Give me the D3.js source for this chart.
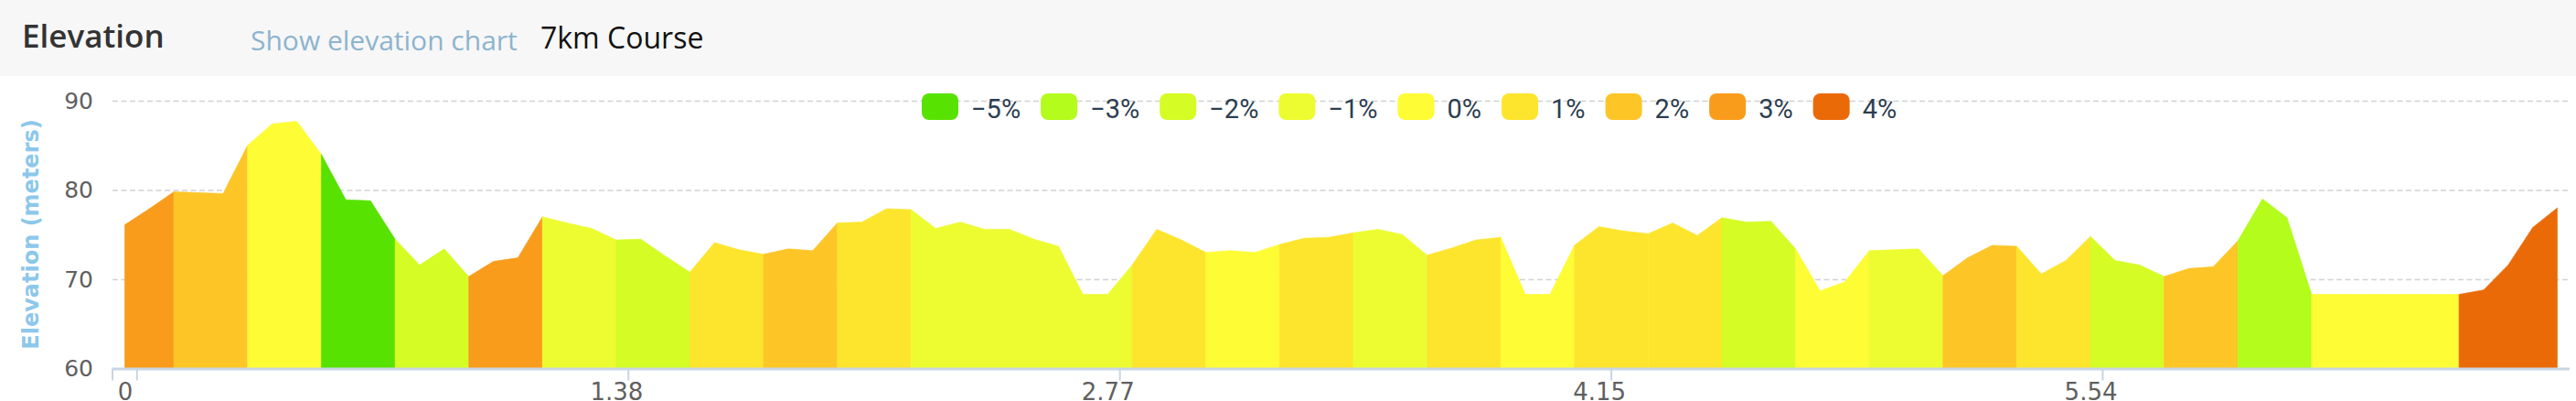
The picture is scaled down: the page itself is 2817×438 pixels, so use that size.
<!DOCTYPE html>
<html>
<head>
<meta charset="utf-8">
<script src="https://cdn.jsdelivr.net/npm/d3@7/dist/d3.min.js"></script>
<style>
  html, body { margin: 0; padding: 0; background: #ffffff; }
  svg { display: block; }
</style>
</head>
<body>
<svg id="chart" width="2817" height="438"></svg>
<script>
// ---------- DATA ----------
const elevation = [
  76.1, 77.9, 79.8, 79.7, 79.6, 85.0, 87.4, 87.7, 84.0, 78.9,
  78.8, 74.5, 71.6, 73.4, 70.3, 72.0, 72.4, 77.0, 76.3, 75.7,
  74.4, 74.5, 72.6, 70.8, 74.1, 73.3, 72.8, 73.4, 73.2, 76.3,
  76.4, 77.9, 77.8, 75.7, 76.4, 75.6, 75.6, 74.5, 73.7, 68.3,
  68.3, 71.6, 75.6, 74.4, 73.0, 73.2, 73.0, 73.9, 74.6, 74.7,
  75.2, 75.6, 75.0, 72.7, 73.5, 74.4, 74.7, 68.3, 68.3, 73.8,
  75.9, 75.4, 75.1, 76.3, 74.9, 76.9, 76.4, 76.5, 73.4, 68.7,
  69.7, 73.2, 73.3, 73.4, 70.4, 72.4, 73.8, 73.7, 70.6, 72.1,
  74.8, 72.1, 71.6, 70.3, 71.2, 71.4, 74.3, 79.0, 76.9, 68.3,
  68.3, 68.3, 68.3, 68.3, 68.3, 68.3, 68.8, 71.6, 75.8, 78.0
];
// point indices where grade segments change
const segmentBreaks = [0, 2, 5, 8, 11, 14, 17, 20, 23, 26, 29, 32, 35, 38, 41, 44, 47,
  50, 53, 56, 59, 62, 65, 68, 71, 74, 77, 80, 83, 86, 89, 92, 95, 99];
// grade (%) of each segment
const segmentGrades = [3, 2, 0, -5, -2, 3, -1, -2, 1, 2, 1, -1, -1, -1, 1, 0, 1,
  -1, 1, 0, 1, 1, -2, 0, -1, 2, 1, -2, 2, -3, 0, 0, 4];
const legendGrades = [-5, -3, -2, -1, 0, 1, 2, 3, 4];
const legendColors = ["#58e202", "#b3fc1b", "#d5fc24", "#ecfc31", "#fefc34",
  "#fde52d", "#fdc526", "#f99c1b", "#eb6a08"];
const xTickIndex = [0, 20, 40, 60, 80];
const xTickLabels = ["0", "1.38", "2.77", "4.15", "5.54"];
const yTicks = [60, 70, 80, 90];
const headerTitle = "Elevation";
const headerLink = "Show elevation chart";
const headerCourse = "7km Course";
const yTitle = "Elevation (meters)";

// ---------- LAYOUT ----------
const W = 2817, H = 438;
const plot = { left: 123, right: 2810, top: 110, bottom: 402.5 };
const svg = d3.select("#chart");

const gradeColor = d3.scaleOrdinal().domain(legendGrades).range(legendColors);

const x = d3.scalePoint()
  .domain(d3.range(elevation.length))
  .range([plot.left, plot.right])
  .padding(0.5);
const step = x.step();
const y = d3.scaleLinear().domain([60, 90]).range([plot.bottom, plot.top]);

// header band
svg.append("rect").attr("x", 0).attr("y", 0).attr("width", W).attr("height", 83)
  .attr("fill", "#f7f7f7");
svg.append("text").attr("x", 24).attr("y", 52)
  .attr("font-family", "'Open Sans', sans-serif").attr("font-weight", 600)
  .attr("font-size", 35).attr("fill", "#333333").text(headerTitle);
svg.append("text").attr("x", 274).attr("y", 55)
  .attr("font-family", "'Open Sans', sans-serif")
  .attr("font-size", 30).attr("fill", "#8db4cf").text(headerLink);
svg.append("text").attr("x", 591).attr("y", 53)
  .attr("font-family", "'Open Sans', sans-serif")
  .attr("font-size", 32).attr("fill", "#111111").text(headerCourse);

// grid lines (y axis)
const yGrid = svg.append("g")
  .attr("transform", `translate(${plot.left},0)`)
  .call(d3.axisLeft(y).tickValues(yTicks.filter(v => v > 60))
    .tickSize(-(plot.right - plot.left)).tickFormat(""));
yGrid.select(".domain").remove();
yGrid.selectAll(".tick line")
  .attr("stroke", "#d2d2d2").attr("stroke-width", 1.6)
  .attr("stroke-dasharray", "6,3.5");

// y labels
const yAxis = svg.append("g")
  .attr("transform", `translate(${plot.left},0)`)
  .call(d3.axisLeft(y).tickValues(yTicks).tickSize(0).tickPadding(21));
yAxis.select(".domain").remove();
yAxis.selectAll("text")
  .attr("font-family", "'DejaVu Sans', sans-serif").attr("font-size", 25)
  .attr("fill", "#606060");

// y title
svg.append("text")
  .attr("transform", `translate(42,256) rotate(-90)`)
  .attr("text-anchor", "middle")
  .attr("font-family", "'DejaVu Sans', sans-serif").attr("font-size", 24)
  .attr("font-weight", "bold")
  .attr("fill", "#8cc8ea").text(yTitle);

// colored area segments
const area = d3.area()
  .x(i => x(i))
  .y0(y(60))
  .y1(i => y(elevation[i]));
const segments = segmentGrades.map((g, k) => ({
  grade: g,
  idx: d3.range(segmentBreaks[k], segmentBreaks[k + 1] + 1)
}));
svg.append("g").selectAll("path").data(segments).join("path")
  .attr("d", d => area(d.idx))
  .attr("fill", d => gradeColor(d.grade))
  .attr("stroke", d => gradeColor(d.grade))
  .attr("stroke-width", 0.6);

// x axis line
svg.append("line")
  .attr("x1", plot.left).attr("x2", plot.right)
  .attr("y1", plot.bottom + 0.5).attr("y2", plot.bottom + 0.5)
  .attr("stroke", "#c8d5e4").attr("stroke-width", 3);

// x tick marks (placed between categories) and labels
const tickPos = [plot.left].concat(xTickIndex.map(i => x(i) + step / 2));
svg.append("g").selectAll("line").data(tickPos).join("line")
  .attr("x1", d => d).attr("x2", d => d)
  .attr("y1", plot.bottom).attr("y2", plot.bottom + 13)
  .attr("stroke", "#c8d5e4").attr("stroke-width", 2);

const xAxis = svg.append("g")
  .attr("transform", `translate(0,${plot.bottom})`)
  .call(d3.axisBottom(x).tickValues(xTickIndex)
    .tickFormat((d, i) => xTickLabels[i]).tickSize(0).tickPadding(16));
xAxis.select(".domain").remove();
xAxis.selectAll("text")
  .attr("font-family", "'DejaVu Sans', sans-serif").attr("font-size", 26)
  .attr("fill", "#606060");

// legend
const legend = svg.append("g");
let lx = 1008;
legendGrades.forEach((g, i) => {
  const item = legend.append("g");
  item.append("rect").attr("x", lx).attr("y", 102).attr("width", 40).attr("height", 29)
    .attr("rx", 8).attr("ry", 8).attr("fill", legendColors[i]);
  const t = item.append("text").attr("x", lx + 54).attr("y", 129)
    .attr("font-family", "Roboto, sans-serif").attr("font-size", 29)
    .attr("fill", "#2c3e50")
    .text((g < 0 ? "\u2212" + Math.abs(g) : g) + "%");
  lx += 54 + t.node().getComputedTextLength() + 22;
});
</script>
</body>
</html>
